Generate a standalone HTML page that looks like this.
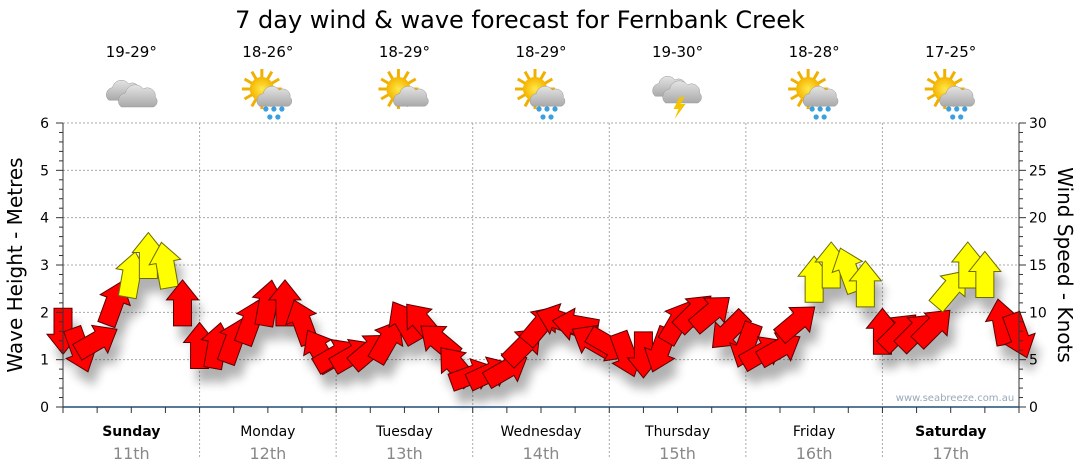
<!DOCTYPE html>
<html><head><meta charset="utf-8"><style>
html,body{margin:0;padding:0;background:#fff;}
svg{display:block;font-family:"DejaVu Sans","Liberation Sans",sans-serif;}
</style></head><body>
<svg id="c" width="1080" height="475" viewBox="0 0 1080 475">
<defs>
<filter id="sh" x="-50%" y="-50%" width="200%" height="200%"><feGaussianBlur stdDeviation="5"/></filter>
<radialGradient id="sun" cx="0.5" cy="0.5" r="0.5"><stop offset="0" stop-color="#ffe94a"/><stop offset="1" stop-color="#f5b400"/></radialGradient>
<linearGradient id="cl" x1="0" y1="0" x2="0" y2="1"><stop offset="0" stop-color="#e4e4e4"/><stop offset="1" stop-color="#a9a9a9"/></linearGradient>
</defs>
<text x="520" y="28" font-size="24" text-anchor="middle" fill="#000">7 day wind &amp; wave forecast for Fernbank Creek</text>
<g id="grid"></g><g id="icons"></g><g id="shadow" filter="url(#sh)" opacity="0.3"></g><g id="arrows"></g><g id="axes"></g>
<text x="955" y="401" font-size="10" fill="#9aa8b8" text-anchor="middle">www.seabreeze.com.au</text>
<text transform="translate(22,265) rotate(-90)" font-size="20" text-anchor="middle">Wave Height - Metres</text>
<text transform="translate(1058,265) rotate(90)" font-size="20" text-anchor="middle">Wind Speed - Knots</text>
</svg>
<script>
const days=["Sunday","Monday","Tuesday","Wednesday","Thursday","Friday","Saturday"];
const dates=["11th","12th","13th","14th","15th","16th","17th"];
const temps=["19-29°","18-26°","18-29°","18-29°","19-30°","18-28°","17-25°"];
const icons=["cloud","sunrain","suncloud","sunrain","storm","sunrain","sunrain"];
const leftTicks=[0,1,2,3,4,5,6];
const rightTicks=[0,5,10,15,20,25,30];
const windSpeed=[8,6,7,11,14,16,15,11, 6.5,6.5,7,9,11,11,9,6, 5.5,5.5,6,7,9,9,7,4.4, 3.4,3.6,4,6.5,8.7,9.2,8.7,7, 6.5,5.5,5.5,6,9,10,10,8, 6.5,5.8,6.2,9,13.5,15,14.5,13, 8,8,8,8.5,12.5,15,14,9,7.5];
const windDir=[180,160,60,20,10,0,350,0, 0,10,20,20,10,0,340,330, 60,60,50,30,330,320,310,320, 70,65,60,45,40,290,280,300, 120,160,180,200,30,45,50,225, 200,60,60,50,0,0,340,0, 0,45,45,45,40,0,0,350,160,45];
const NS="http://www.w3.org/2000/svg";
const X0=63,X1=1019,Y0=407,Y1=123,DW=(X1-X0)/7;
const yM=v=>Y0-(v/6)*(Y0-Y1);
const yK=v=>Y0-(v/30)*(Y0-Y1);
const xT=i=>X0+i*DW/8;
function mk(tag,at,parent,name,txt){const e=document.createElementNS(NS,tag);for(const k in at)e.setAttribute(k,at[k]);


if(txt!==undefined)e.textContent=txt;document.getElementById(parent).appendChild(e);return e;}
leftTicks.forEach(t=>{if(t>0)mk('line',{x1:X0,x2:X1,y1:yM(t),y2:yM(t),stroke:'#aaa','stroke-dasharray':'2,2'},'grid','h-gridline');});
for(let d=1;d<7;d++){mk('line',{x1:X0+d*DW,x2:X0+d*DW,y1:Y1,y2:Y0+50,stroke:'#aaa','stroke-dasharray':'2,2'},'grid','day-separator');}
mk('line',{x1:X0,x2:X0,y1:Y1,y2:Y0,stroke:'#333'},'axes','left-axis');
mk('line',{x1:X1,x2:X1,y1:Y1,y2:Y0,stroke:'#333'},'axes','right-axis');
mk('line',{x1:X0,x2:X1,y1:Y0,y2:Y0,stroke:'#1f4e79','stroke-width':1.5},'axes','x-axis');
for(let m=0;m<=30;m++){const y=yM(m/5);mk('line',{x1:X0-(m%5?4:7),x2:X0,y1:y,y2:y,stroke:'#333'},'axes','left-tick');}
leftTicks.forEach(t=>mk('text',{x:X0-14,y:yM(t)+5,'font-size':14,'text-anchor':'end'},'axes','left-tick-label',t));
for(let k=0;k<=30;k++){const y=yK(k);mk('line',{x1:X1,x2:X1+(k%5?4:7),y1:y,y2:y,stroke:'#333'},'axes','right-tick');}
rightTicks.forEach(t=>mk('text',{x:X1+10,y:yK(t)+5,'font-size':14},'axes','right-tick-label',t));
for(let i=0;i<=28;i++){const x=X0+i*DW/4;mk('line',{x1:x,x2:x,y1:Y0,y2:Y0+6,stroke:'#333'},'axes','x-tick');}
days.forEach((d,i)=>{const cx=X0+DW*(i+0.5);
mk('text',{x:cx,y:436,'font-size':14,'text-anchor':'middle','font-weight':(i==0||i==6)?'bold':'normal'},'axes','day-label',d);
mk('text',{x:cx,y:459,'font-size':16,'text-anchor':'middle',fill:'#888'},'axes','date-label',dates[i]);
mk('text',{x:cx,y:57,'font-size':15,'text-anchor':'middle'},'icons','temp-label',temps[i]);
drawIcon(icons[i],cx,95);});
function drawIcon(t,cx,cy){
 const g=mk('g',{transform:`translate(${cx},${cy})`},'icons','weather-icon-'+t);
 const add=(tag,at)=>{const e=document.createElementNS(NS,tag);for(const k in at)e.setAttribute(k,at[k]);g.appendChild(e);};
 if(t!=='cloud'&&t!=='storm'){for(let a=0;a<360;a+=30){const r=a*Math.PI/180;add('line',{x1:-6+Math.cos(r)*10,y1:-6+Math.sin(r)*10,x2:-6+Math.cos(r)*20,y2:-6+Math.sin(r)*20,stroke:'#f0b000','stroke-width':3});}
  add('circle',{cx:-6,cy:-6,r:12,fill:'url(#sun)'});}
 const cloud=(dx,dy,s)=>{add('path',{d:`M${dx-16*s},${dy+8*s} a${8*s},${8*s} 0 0 1 ${4*s},${-14*s} a${10*s},${10*s} 0 0 1 ${18*s},${-4*s} a${8*s},${8*s} 0 0 1 ${12*s},${8*s} a${6*s},${6*s} 0 0 1 ${-2*s},${10*s} z`,fill:'url(#cl)',stroke:'#999','stroke-width':0.5});};
 if(t==='cloud'){cloud(-8,-2,0.9);cloud(6,4,1);}
 else if(t==='storm'){cloud(-8,-6,0.9);cloud(4,0,1);add('path',{d:'M2,2 L-4,14 L1,14 L-3,24 L8,9 L3,9 L7,2 z',fill:'#f5c400'});}
 else {cloud(6,4,0.9);}
 if(t==='sunrain'){[[-2,14],[6,14],[14,14],[2,22],[10,22]].forEach(p=>add('circle',{cx:p[0],cy:p[1],r:2.6,fill:'#3aa0e0'}));}
}
const L=46,HW=16,SW=9,HL=20;
windSpeed.forEach((v,i)=>{const x=xT(i),y=yK(v),r=windDir[i];
 const d=`M0,${-L/2} L${HW},${-L/2+HL} L${SW},${-L/2+HL} L${SW},${L/2} L${-SW},${L/2} L${-SW},${-L/2+HL} L${-HW},${-L/2+HL} z`;
 mk('path',{d:d,transform:`translate(${x+6},${y+14}) rotate(${r})`,fill:'#000'},'shadow','arrow-shadow');
 mk('path',{d:d,transform:`translate(${x},${y}) rotate(${r})`,fill:v>=12?'#ffff00':'#ff0000',stroke:v>=12?'#6b6b00':'#5a0000','stroke-width':1},'arrows','wind-arrow');
});
</script>
</body></html>
